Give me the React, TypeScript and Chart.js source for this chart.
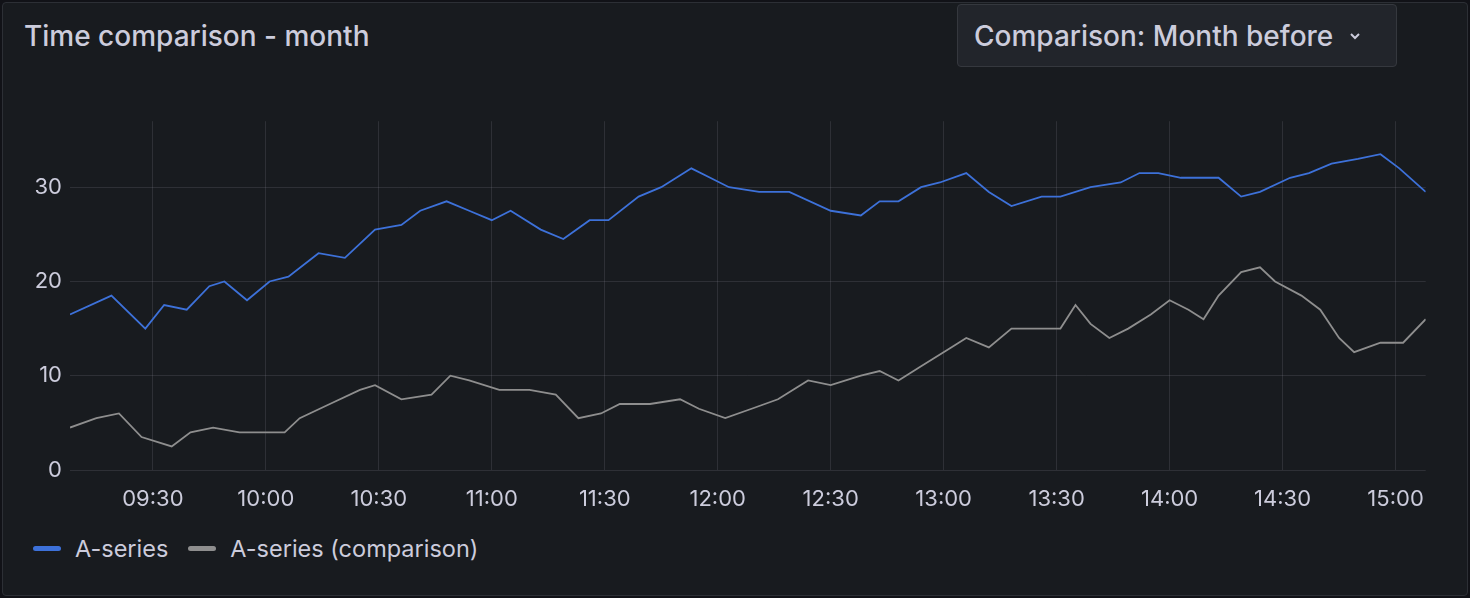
import { useEffect, useRef } from "react";
import { Chart, registerables } from "chart.js";

Chart.register(...registerables);

// minutes of day
const blueTimes = [548,559,568,573,579,585,589,595,601,606,614,621,629,636,641,648,654,660,665,673,679,686,691,699,705,713,718,723,731,739,750,758,763,768,774,779,786,792,798,806,811,819,827,832,837,843,853,859,864,872,877,883,890,896,901,908];
const blueValues = [16.5,18.5,15,17.5,17,19.5,20,18,20,20.5,23,22.5,25.5,26,27.5,28.5,27.5,26.5,27.5,25.5,24.5,26.5,26.5,29,30,32,31,30,29.5,29.5,27.5,27,28.5,28.5,30,30.5,31.5,29.5,28,29,29,30,30.5,31.5,31.5,31,31,29,29.5,31,31.5,32.5,33,33.5,32,29.5];
const grayTimes = [548,555,561,567,575,580,586,593,598,605,609,617,625,629,636,644,649,654,662,670,677,683,689,694,702,710,715,722,729,736,744,750,758,763,768,774,782,786,792,798,805,811,815,819,824,829,835,840,845,849,853,859,864,868,875,880,885,889,896,902,908];
const grayValues = [4.5,5.5,6,3.5,2.5,4,4.5,4,4,4,5.5,7,8.5,9,7.5,8,10,9.5,8.5,8.5,8,5.5,6,7,7,7.5,6.5,5.5,6.5,7.5,9.5,9,10,10.5,9.5,11,13,14,13,15,15,15,17.5,15.5,14,15,16.5,18,17,16,18.5,21,21.5,20,18.5,17,14,12.5,13.5,13.5,16];
const xTicks = [570,600,630,660,690,720,750,780,810,840,870,900];
const yTicks = [0, 10, 20, 30];

const fmt = (m: number) => `${String(Math.floor(m / 60)).padStart(2, "0")}:${String(m % 60).padStart(2, "0")}`;

export default function App() {
  const ref = useRef<HTMLCanvasElement>(null);

  useEffect(() => {
    if (!ref.current) return;
    const text = "#ccccdc";
    const grid = "rgba(204,204,220,0.12)";
    const chart = new Chart(ref.current, {
      type: "line",
      data: {
        datasets: [
          {
            label: "A-series",
            data: blueTimes.map((t, i) => ({ x: t, y: blueValues[i] })),
            borderColor: "#3d71d9",
            borderWidth: 1.8,
            pointRadius: 0,
          },
          {
            label: "A-series (comparison)",
            data: grayTimes.map((t, i) => ({ x: t, y: grayValues[i] })),
            borderColor: "#8e8e8e",
            borderWidth: 1.8,
            pointRadius: 0,
          },
        ],
      },
      options: {
        animation: false,
        responsive: true,
        maintainAspectRatio: false,
        layout: { padding: { top: 0, right: 10 } },
        plugins: { legend: { display: false }, tooltip: { enabled: false } },
        scales: {
          x: {
            type: "linear",
            min: 548,
            max: 908,
            afterBuildTicks: (s: any) => { s.ticks = xTicks.map((v) => ({ value: v })); },
            afterFit: (s: any) => { s.height = 50; },
            grid: { color: grid, drawTicks: false },
            border: { display: false },
            ticks: { color: text, font: { family: "Inter", size: 22 }, padding: 16, maxRotation: 0, autoSkip: false, callback: (v: any) => fmt(Number(v)) },
          },
          y: {
            min: 0,
            max: 37,
            afterBuildTicks: (s: any) => { s.ticks = yTicks.map((v) => ({ value: v })); },
            afterFit: (s: any) => { s.width = 70; },
            grid: { color: grid, drawTicks: false },
            border: { display: false },
            ticks: { color: text, font: { family: "Inter", size: 22 }, padding: 8 },
          },
        },
      },
    });
    return () => chart.destroy();
  }, []);

  const legendItem = (color: string, label: string) => (
    <div style={{ display: "flex", alignItems: "center", marginRight: 20 }}>
      <div style={{ width: 28, height: 5, borderRadius: 3, background: color, marginRight: 14 }} />
      <span>{label}</span>
    </div>
  );

  return (
    <div style={{ position: "fixed", inset: 0, background: "#111217", fontFamily: "Inter, sans-serif", color: "#ccccdc" }}>
      <div style={{ position: "absolute", left: 2, top: 2, width: 1464, height: 592, background: "#181b1f", border: "1px solid #2c2f35", borderRadius: 4 }} />
      <div style={{ position: "absolute", left: 24, top: 19, fontSize: 28, fontWeight: 500 }}>Time comparison - month</div>
      <div style={{ position: "absolute", left: 957, top: 4, width: 440, height: 63, background: "#22252b", border: "1px solid #35383e", borderRadius: 4, display: "flex", alignItems: "center", paddingLeft: 16, boxSizing: "border-box", fontSize: 28, fontWeight: 500 }}>
        Comparison: Month before
        <svg width="16" height="16" viewBox="0 0 16 16" style={{ marginLeft: 14 }}><path d="M4 6l4 4 4-4" stroke="#ccccdc" strokeWidth="2" fill="none" /></svg>
      </div>
      <div style={{ position: "absolute", left: 0, top: 100, width: 1440, height: 420 }}>
        <canvas ref={ref} />
      </div>
      <div style={{ position: "absolute", left: 33, top: 534, display: "flex", fontSize: 23.5 }}>
        {legendItem("#3d71d9", "A-series")}
        {legendItem("#8e8e8e", "A-series (comparison)")}
      </div>
    </div>
  );
}
